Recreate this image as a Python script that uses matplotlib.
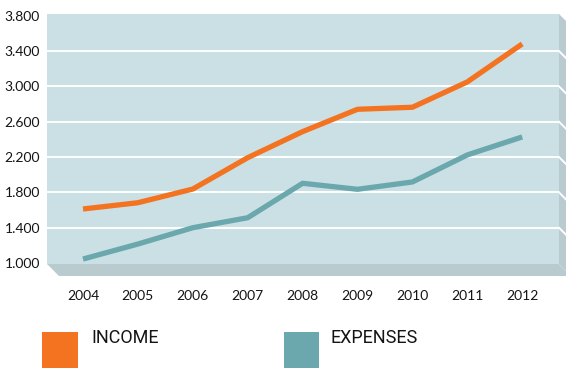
import numpy as np
import matplotlib.pyplot as plt
from matplotlib.patches import Polygon, Rectangle

# data
years = [2004, 2005, 2006, 2007, 2008, 2009, 2010, 2011, 2012]
income = [1612, 1683, 1838, 2193, 2488, 2741, 2764, 3051, 3481]
expenses = [1045, 1215, 1400, 1513, 1903, 1835, 1918, 2224, 2428]
yticks = [1000, 1400, 1800, 2200, 2600, 3000, 3400, 3800]
ytick_labels = ["1.000", "1.400", "1.800", "2.200", "2.600", "3.000", "3.400", "3.800"]

c_income = "#f47321"
c_exp = "#6ba8ae"
c_wall = "#cae0e4"
c_floor = "#b9cbcf"
c_text = "#141414"

W, H = 566, 368
fig = plt.figure(figsize=(W / 100, H / 100), dpi=100)
plt.rcParams['font.family'] = ['Lato', 'DejaVu Sans']

# wall box in pixels (top-left origin)
x0, x1, ytop, ybot = 47, 559, 14, 264
depth = 12

# background layer in pixel coords for floor / side wall / legend
bg = fig.add_axes([0, 0, 1, 1])
bg.set_xlim(0, W)
bg.set_ylim(H, 0)
bg.axis("off")

bg.add_patch(Polygon([(x0, ybot), (x1, ybot), (x1 + depth, ybot + depth), (x0 + depth, ybot + depth)],
                     closed=True, facecolor=c_floor, edgecolor="none"))
bg.add_patch(Polygon([(x1, ytop), (x1 + depth, ytop + depth), (x1 + depth, ybot + depth), (x1, ybot)],
                     closed=True, facecolor=c_floor, edgecolor="none"))

ax = fig.add_axes([x0 / W, 1 - ybot / H, (x1 - x0) / W, (ybot - ytop) / H])
ax.set_facecolor(c_wall)
ax.set_xlim(2003.344, 2012.67)
ax.set_ylim(989, 3820)
for s in ax.spines.values():
    s.set_visible(False)

# horizontal grid + diagonal continuation on side wall
for v in yticks[1:-1]:
    ax.axhline(v, color="white", lw=1.4, zorder=1)
    ypx = ybot - (v - 989) / (3820 - 989) * (ybot - ytop)
    bg.plot([x1, x1 + depth], [ypx, ypx + depth], color="white", lw=1.4)

ax.plot(years, income, color=c_income, lw=3.8, solid_capstyle="butt", zorder=3)
ax.plot(years, expenses, color=c_exp, lw=3.8, solid_capstyle="butt", zorder=3)

ax.set_yticks(yticks)
ax.set_yticklabels(ytick_labels, fontsize=10, color=c_text)
ax.set_xticks(years)
ax.set_xticklabels([str(y) for y in years], fontsize=10, color=c_text)
ax.tick_params(axis="both", length=0)
ax.tick_params(axis="y", pad=5)
ax.tick_params(axis="x", pad=19)

# legend
leg_font = ['Roboto', 'DejaVu Sans']
bg.add_patch(Rectangle((42, 332), 36, 40, facecolor=c_income, edgecolor="none", clip_on=False))
bg.text(91, 338, "INCOME", fontsize=13, va="center", ha="left", color=c_text, family=leg_font)
bg.add_patch(Rectangle((284, 332), 35, 40, facecolor=c_exp, edgecolor="none", clip_on=False))
bg.text(331, 338, "EXPENSES", fontsize=13, va="center", ha="left", color=c_text, family=leg_font)

fig.savefig("out.png", dpi=100)
